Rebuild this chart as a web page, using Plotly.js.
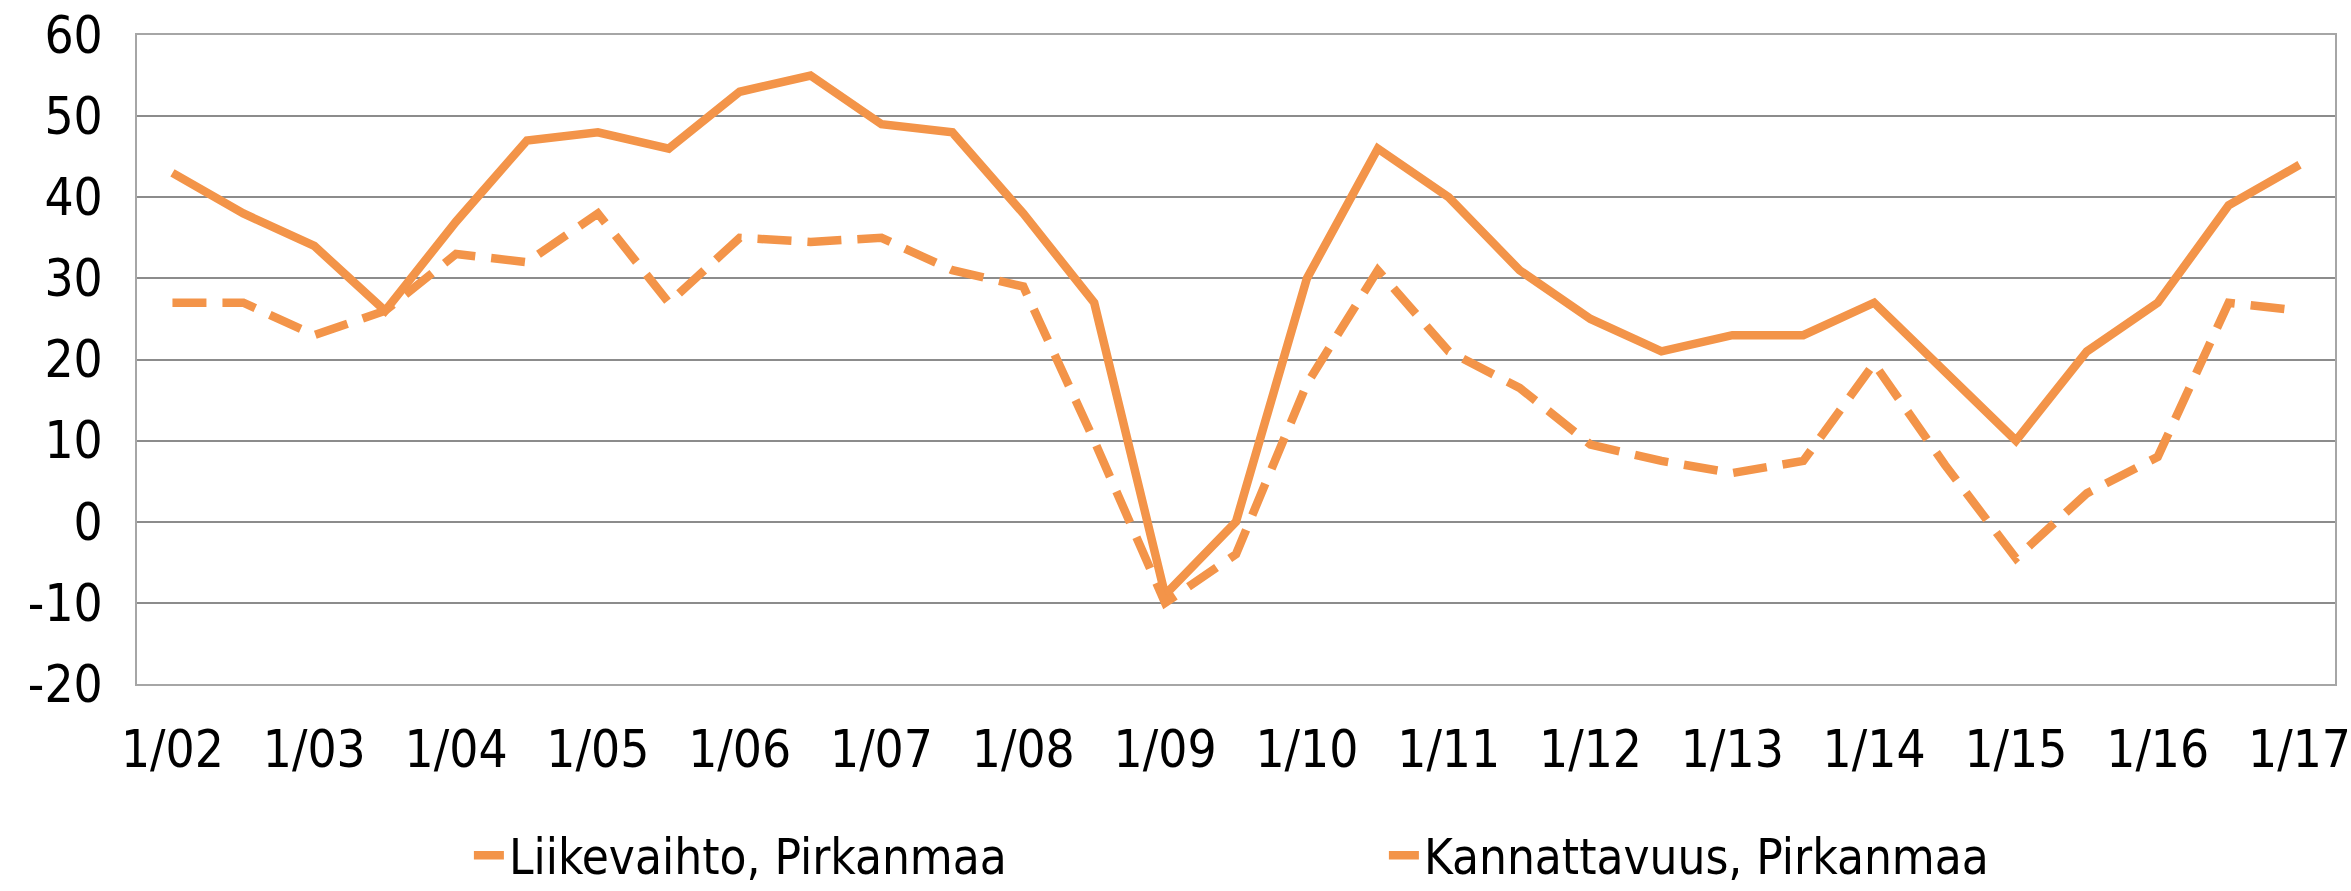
<!DOCTYPE html>
<html>
<head>
<meta charset="utf-8">
<script src="https://cdn.plot.ly/plotly-3.0.1.min.js"></script>
<style>html,body{margin:0;padding:0;background:#fff;}#chart{width:2351px;height:891px;}</style>
</head>
<body>
<div id="chart"></div>
<script>
const periods = ["1/02","7/02","1/03","7/03","1/04","7/04","1/05","7/05","1/06","7/06","1/07","7/07","1/08","7/08","1/09","7/09","1/10","7/10","1/11","7/11","1/12","7/12","1/13","7/13","1/14","7/14","1/15","7/15","1/16","7/16","1/17"];
const tickLabels = ["1/02","1/03","1/04","1/05","1/06","1/07","1/08","1/09","1/10","1/11","1/12","1/13","1/14","1/15","1/16","1/17"];
const yTickValues = [-20,-10,0,10,20,30,40,50,60];
const yTickLabels = ["-20","-10","0","10","20","30","40","50","60"];
const liikevaihto = [43,38,34,26,37,47,48,46,53,55,49,48,38,27,-9,0,30,46,40,31,25,21,23,23,27,18.5,10,21,27,39,44];
const kannattavuus = [27,27,23,26,33,32,38,27,35,34.5,35,31,29,10,-10,-4,17,31,21,16.5,9.5,7.5,6,7.5,19.5,7,-4.5,3.5,8,27,26];

const orange = "#F39449";
const font = {family: "DejaVu Sans Condensed, DejaVu Sans, sans-serif", size: 51, color: "#000"};
const legendFont = {family: "DejaVu Sans Condensed, DejaVu Sans, sans-serif", size: 49, color: "#000"};

const traces = [
  {x: periods, y: liikevaihto, type: "scatter", mode: "lines", name: "Liikevaihto, Pirkanmaa",
   line: {color: orange, width: 8.5}},
  {x: periods, y: kannattavuus, type: "scatter", mode: "lines", name: "Kannattavuus, Pirkanmaa",
   line: {color: orange, width: 8.5, dash: "34px,16px"}}
];

const layout = {
  width: 2351, height: 891,
  margin: {l: 137, r: 16, t: 35, b: 207},
  paper_bgcolor: "#fff", plot_bgcolor: "#fff",
  font: font,
  showlegend: true,
  legend: {orientation: "h", x: 0.151, xanchor: "left", yref: "container", y: 0.04, yanchor: "middle",
           font: legendFont, entrywidth: 870, traceorder: "normal"},
  xaxis: {type: "category", range: [-0.5, 30.5], tickmode: "array", tickvals: tickLabels, ticktext: tickLabels,
          showgrid: false, showline: true, linecolor: "#a6a6a6", linewidth: 2, mirror: true,
          ticks: "", ticklabelstandoff: 20, tickfont: font, fixedrange: true},
  yaxis: {range: [-20, 60], tickmode: "array", tickvals: yTickValues, ticktext: yTickLabels,
          showgrid: true, gridcolor: "#8c8c8c", gridwidth: 2,
          showline: true, linecolor: "#a6a6a6", linewidth: 2, mirror: true, zeroline: false,
          ticks: "", ticklabelstandoff: 22, tickfont: font, fixedrange: true}
};

Plotly.newPlot("chart", traces, layout, {displayModeBar: false, staticPlot: true});
</script>
</body>
</html>
